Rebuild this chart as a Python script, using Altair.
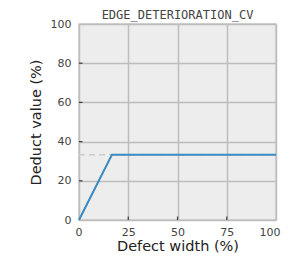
import altair as alt
import pandas as pd

xs = [0, 16.7, 100]
ys = [0, 33.3, 33.3]
ref_y = [33.3]
x_ticks = [25, 50, 75]
y_ticks = [20, 40, 60, 80]

line_df = pd.DataFrame({"x": xs, "y": ys})
ref_df = pd.DataFrame({"y": ref_y})
xt_df = pd.DataFrame({"x": x_ticks})
yt_df = pd.DataFrame({"y": y_ticks})

xscale = alt.Scale(domain=[0, 100], nice=False)
yscale = alt.Scale(domain=[0, 100], nice=False)

xaxis = alt.Axis(values=[0, 25, 50, 75, 100], title="Defect width (%)", grid=True,
                 tickSize=0, domain=False, labelPadding=6, titlePadding=2,
                 labelFlush=True, labelFlushOffset=4)
yaxis = alt.Axis(values=[0, 20, 40, 60, 80, 100], title="Deduct value (%)", grid=True,
                 tickSize=0, domain=False, labelPadding=8, titlePadding=7, labelFlush=False)

ref = alt.Chart(ref_df).mark_rule(color="#cccccc", strokeDash=[6, 4], strokeWidth=1.5).encode(
    y=alt.Y("y:Q", scale=yscale, axis=yaxis),
    x=alt.value(0), x2=alt.value(197))

line = alt.Chart(line_df).mark_line(color="#3a8ac4", strokeWidth=2).encode(
    x=alt.X("x:Q", scale=xscale, axis=xaxis),
    y=alt.Y("y:Q", scale=yscale, axis=yaxis))

xt = alt.Chart(xt_df).mark_tick(color="#000000", orient="vertical", size=7, thickness=1.2, clip=True).encode(
    x=alt.X("x:Q", scale=xscale, axis=xaxis), y=alt.value(196))
yt = alt.Chart(yt_df).mark_tick(color="#000000", orient="horizontal", size=7, thickness=1.2, clip=True).encode(
    y=alt.Y("y:Q", scale=yscale, axis=yaxis), x=alt.value(0))

chart = alt.layer(ref, line, xt, yt).properties(
    width=197, height=196,
    title=alt.TitleParams("EDGE_DETERIORATION_CV", font="DejaVu Sans Mono", fontSize=12,
                          fontWeight="normal", color="#444444", offset=-4, frame="group"),
    autosize=alt.AutoSizeParams(type="none"),
    padding={"left": 71, "top": 16, "right": 6, "bottom": 35},
).configure_view(fill="#ededed", stroke="#c8c8c8", strokeWidth=1.5).configure_axis(
    gridColor="#bdbdbd", gridWidth=1.5,
    labelFont="DejaVu Sans", labelFontSize=11, labelColor="#444444",
    titleFont="DejaVu Sans", titleFontSize=14.5, titleFontWeight="normal", titleColor="#222222",
)

chart.save("out.html", embed_options={"renderer": "svg", "actions": False})
